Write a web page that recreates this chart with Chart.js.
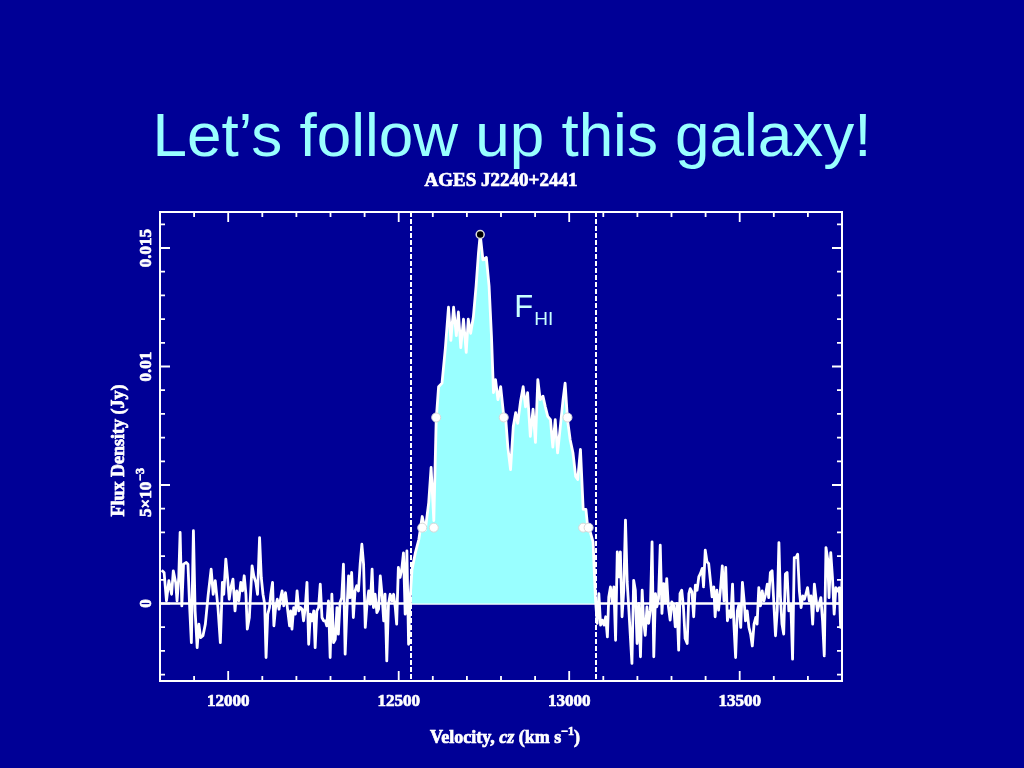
<!DOCTYPE html>
<html>
<head>
<meta charset="utf-8">
<title>AGES J2240+2441</title>
<script src="https://cdn.jsdelivr.net/npm/chart.js@4.4.0/dist/chart.umd.min.js"></script>
<style>
    html, body { margin: 0; padding: 0; background: #000096; }
    #slide { position: relative; width: 1024px; height: 768px; overflow: hidden; background: #000096; }
    #spectrum { position: absolute; left: 0; top: 0; }
    #heading {
        position: absolute; left: 0; top: 104px; width: 1024px;
        text-align: center; line-height: 62px;
        font-family: 'Liberation Sans', Arial, sans-serif; font-size: 62px;
        color: #99ffff; white-space: nowrap;
    }
</style>
</head>
<body>
<div id="slide">
    <canvas id="spectrum" width="1024" height="768"></canvas>
    <div id="heading">Let’s follow up this galaxy!</div>
</div>
<script>
// Spectrum of AGES J2240+2441.
// velocity in km/s, flux in mJy (axis labels are shown in Jy)
const velocity = [
    11805, 11812, 11819, 11826, 11834, 11839, 11846, 11850, 11855, 11859,
    11864, 11869, 11877, 11882, 11887, 11892, 11898, 11903, 11909, 11914,
    11919, 11926, 11933, 11941, 11950, 11956, 11962, 11970, 11977, 11983,
    11987, 11993, 11998, 12003, 12008, 12014, 12020, 12025, 12031, 12037,
    12042, 12047, 12052, 12056, 12062, 12070, 12075, 12081, 12086, 12092,
    12097, 12102, 12107, 12111, 12116, 12121, 12125, 12130, 12134, 12139,
    12144, 12149, 12154, 12158, 12163, 12168, 12174, 12180, 12183, 12187,
    12192, 12197, 12202, 12207, 12212, 12217, 12221, 12226, 12231, 12236,
    12241, 12246, 12251, 12255, 12260, 12265, 12270, 12275, 12280, 12285,
    12289, 12294, 12299, 12304, 12309, 12314, 12319, 12323, 12328, 12333,
    12338, 12343, 12348, 12353, 12357, 12362, 12367, 12372, 12377, 12382,
    12387, 12392, 12397, 12402, 12407, 12412, 12417, 12422, 12426, 12431,
    12436, 12441, 12446, 12451, 12456, 12460, 12465, 12470, 12475, 12480,
    12485, 12490, 12494, 12499, 12504, 12509, 12514, 12519, 12524, 12529,
    12533, 12539, 12549, 12559, 12569, 12578, 12588, 12595, 12603, 12610,
    12617, 12627, 12637, 12646, 12653, 12661, 12669, 12675, 12682, 12690,
    12698, 12704, 12711, 12719, 12727, 12734, 12739, 12747, 12757, 12765,
    12772, 12778, 12784, 12791, 12799, 12807, 12814, 12820, 12828, 12836,
    12843, 12849, 12857, 12865, 12872, 12878, 12886, 12894, 12901, 12908,
    12915, 12923, 12930, 12937, 12945, 12952, 12959, 12966, 12974, 12982,
    12988, 12995, 13003, 13011, 13019, 13025, 13033, 13041, 13049, 13054,
    13062, 13070, 13077, 13082, 13087, 13092, 13097, 13102, 13107, 13112,
    13116, 13121, 13126, 13131, 13136, 13141, 13146, 13150, 13155, 13160,
    13165, 13170, 13175, 13180, 13184, 13189, 13194, 13199, 13204, 13209,
    13214, 13218, 13223, 13228, 13233, 13238, 13243, 13248, 13253, 13257,
    13262, 13267, 13272, 13277, 13282, 13286, 13291, 13296, 13301, 13306,
    13311, 13316, 13321, 13325, 13330, 13335, 13340, 13346, 13351, 13355,
    13360, 13365, 13370, 13375, 13380, 13385, 13390, 13394, 13399, 13404,
    13409, 13414, 13419, 13424, 13428, 13433, 13438, 13443, 13449, 13454,
    13459, 13464, 13469, 13474, 13479, 13483, 13488, 13493, 13498, 13503,
    13508, 13513, 13517, 13522, 13527, 13532, 13537, 13542, 13547, 13551,
    13556, 13561, 13566, 13571, 13576, 13581, 13585, 13590, 13595, 13600,
    13605, 13610, 13615, 13619, 13624, 13629, 13634, 13639, 13644, 13650,
    13655, 13660, 13665, 13670, 13675, 13680, 13685, 13690, 13694, 13699,
    13704, 13709, 13714, 13719, 13724, 13728, 13733, 13738, 13743, 13748,
    13753, 13758, 13762, 13767, 13772, 13777, 13782, 13787, 13792, 13796,
    13800
];
const flux = [
    1.40, 1.31, 0.11, 0.96, 0.39, 1.38, 0.89, 0.11, 1.10, 3.00,
    -0.10, 1.66, 1.73, 1.66, -0.17, -1.65, 3.07, -0.31, -1.86, -0.87,
    -1.44, -1.36, -0.87, 0.32, 1.45, 0.39, 0.96, -0.17, -1.65, 0.89,
    0.39, 1.87, 1.10, 0.18, 0.67, 1.03, -0.31, 0.53, 0.11, 0.89,
    0.53, 1.17, 0.39, -1.08, -0.59, 1.59, 1.17, 0.89, 0.39, 2.78,
    1.10, 0.39, -0.03, -2.28, -0.45, -0.17, 0.39, 0.89, -0.94, -0.17,
    0.18, -0.24, 0.25, 0.53, -0.10, 0.46, -0.24, -0.94, -0.31, -1.08,
    -0.17, -0.45, 0.53, -0.31, -0.17, -0.24, -0.73, -0.17, 0.89, -1.72,
    -0.45, -0.73, -0.31, -1.86, -0.31, -0.17, 0.82, -0.59, -0.73, -0.73,
    -0.94, 0.11, -2.28, 0.39, -1.65, -1.51, -0.17, -1.29, 0.04, 0.25,
    1.66, -2.14, -0.31, 1.17, 0.25, 1.31, -0.59, 0.53, 0.75, 0.53,
    1.66, 2.50, 1.66, -1.01, -0.03, 0.53, -0.03, 1.45, -0.17, 0.39,
    -0.38, -0.24, 1.17, 0.39, -0.73, 0.39, -2.42, -0.03, 0.39, 0.11,
    0.39, -0.17, -0.87, 1.52, 1.10, 1.45, 2.14, -0.45, 2.22, -1.72,
    0.11, 1.43, 2.15, 2.70, 3.67, 3.10, 4.26, 5.74, 3.50, 7.76,
    9.15, 9.30, 10.80, 12.50, 11.10, 12.50, 11.30, 12.30, 10.80, 12.00,
    10.60, 12.00, 11.40, 12.10, 13.40, 14.80, 15.57, 14.50, 14.60, 13.40,
    11.30, 8.90, 9.45, 8.60, 9.15, 8.05, 7.76, 6.60, 5.65, 7.47,
    8.05, 7.60, 8.50, 9.15, 8.30, 8.90, 7.05, 8.20, 6.80, 9.45,
    8.60, 8.75, 8.30, 7.90, 7.76, 6.60, 7.76, 6.36, 7.47, 8.60,
    9.30, 7.76, 6.90, 6.36, 5.36, 5.23, 6.50, 3.97, 3.97, 3.25,
    3.00, 2.60, 0.20, -0.84, 0.42, -0.91, -0.70, -0.91, -0.56, -1.41,
    0.28, 0.70, 0.07, 0.70, -1.55, 2.18, 1.12, 2.18, -0.56, 0.56,
    3.52, 0.91, -0.28, -1.55, -2.53, 0.98, 0.56, -1.69, 0.00, -2.25,
    0.56, -0.70, -1.34, -0.14, -0.84, -0.28, 2.60, -2.25, 0.42, -0.14,
    0.21, 2.46, -0.42, 0.84, 0.07, 1.05, -0.14, -0.70, 0.07, -0.07,
    -0.98, 0.00, -1.97, 0.42, 0.56, -0.14, -1.48, -1.69, 0.42, 0.63,
    0.49, -0.56, 0.77, 0.56, 1.12, 1.27, 1.48, 0.70, 2.25, 1.76,
    1.69, 0.98, 0.28, 0.70, -0.56, 0.56, -0.28, 0.49, 1.59, 0.11,
    1.52, -0.73, -0.31, -0.59, 0.82, -0.87, -2.28, -0.31, -0.03, -1.01,
    0.89, 0.11, -0.73, -0.31, -1.01, -1.29, -1.79, -0.87, -0.59, -0.87,
    0.67, -0.10, 0.53, 0.11, 0.39, 0.82, 0.25, 1.31, 1.38, 0.04,
    -1.36, -0.31, 2.57, 0.39, -0.87, -1.29, 1.24, 1.31, -0.31, -0.03,
    -2.35, 1.94, 1.94, 2.08, 0.53, -0.17, 0.32, 0.18, 0.39, 0.67,
    0.11, 0.32, -0.87, 0.82, 0.18, -0.31, -0.03, 0.25, -0.73, -2.21,
    2.36, 1.87, 0.25, 2.15, 1.10, -0.45, 0.67, 0.53, 0.67, -1.01,
    1.03
];

// integration window (dashed lines), km/s
const windowEdges = [12537, 13080];

// width markers (20% and 50% of peak) and the peak itself
const markerVelocity = [12569, 12603, 13041, 13057, 12610, 12808, 12995];
const markerFlux = [3.2, 3.2, 3.2, 3.2, 7.85, 7.85, 7.85];
const peakVelocity = [12739];
const peakFlux = [15.57];

// axes
const xMin = 11800, xMax = 13800;
const yMin = -3.27, yMax = 16.52;
const xTickValues = [12000, 12500, 13000, 13500];
const xTickLabels = ['12000', '12500', '13000', '13500'];
const yTickValues = [0, 5, 10, 15];
const yTickLabels = ['0', '5×10|−3', '0.01', '0.015'];   // '|' splits off the exponent

const chartTitle = 'AGES J2240+2441';
const serif = "'Liberation Serif', 'Times New Roman', serif";

const points = (xs, ys) => xs.map((v, i) => ({ x: v, y: ys[i] }));

const spectrumPoints = points(velocity, flux);
const windowPoints = spectrumPoints.filter(p => p.x >= windowEdges[0] && p.x <= windowEdges[1]);

// heavy pgplot-like text: fill plus a thin stroke
function heavyText(ctx, text, x, y) {
    ctx.fillText(text, x, y);
    ctx.strokeText(text, x, y);
}

// PGPLOT style frame: inward ticks on all four sides, rotated y labels
const pgplotAxes = {
    id: 'pgplotAxes',
    beforeDatasetsDraw(chart) {
        const { ctx, chartArea: a, scales: { y } } = chart;
        const y0 = y.getPixelForValue(0);
        ctx.save();
        ctx.strokeStyle = '#ffffff';
        ctx.lineWidth = 2.5;
        ctx.beginPath();
        ctx.moveTo(a.left, y0);
        ctx.lineTo(a.right, y0);
        ctx.stroke();
        ctx.restore();
    },
    afterDatasetsDraw(chart) {
        const { ctx, chartArea: a, scales: { x } } = chart;
        ctx.save();
        ctx.strokeStyle = '#ffffff';
        ctx.lineWidth = 2;
        ctx.setLineDash([5, 2]);
        windowEdges.forEach(v => {
            const px = Math.round(x.getPixelForValue(v));
            ctx.beginPath();
            ctx.moveTo(px, a.top);
            ctx.lineTo(px, a.bottom);
            ctx.stroke();
        });
        ctx.restore();
    },
    afterDraw(chart) {
        const { ctx, chartArea: a, scales: { x, y } } = chart;
        ctx.save();
        ctx.strokeStyle = '#ffffff';
        ctx.fillStyle = '#ffffff';

        // frame
        ctx.lineWidth = 2;
        ctx.strokeRect(a.left, a.top, a.right - a.left, a.bottom - a.top);

        // ticks
        ctx.lineWidth = 1.8;
        ctx.beginPath();
        for (let v = 11900; v <= 13700; v += 100) {
            const len = v % 500 === 0 ? 10 : 5;
            const px = x.getPixelForValue(v);
            ctx.moveTo(px, a.bottom); ctx.lineTo(px, a.bottom - len);
            ctx.moveTo(px, a.top); ctx.lineTo(px, a.top + len);
        }
        for (let f = -3; f <= 16; f += 1) {
            const len = f % 5 === 0 ? 10 : 5;
            const py = y.getPixelForValue(f);
            ctx.moveTo(a.left, py); ctx.lineTo(a.left + len, py);
            ctx.moveTo(a.right, py); ctx.lineTo(a.right - len, py);
        }
        ctx.stroke();

        ctx.lineWidth = 0.7;

        // x tick labels
        ctx.font = `bold 17px ${serif}`;
        ctx.textAlign = 'center';
        ctx.textBaseline = 'alphabetic';
        xTickValues.forEach((v, i) => {
            heavyText(ctx, xTickLabels[i], x.getPixelForValue(v), a.bottom + 25);
        });

        // y tick labels, rotated
        yTickValues.forEach((f, i) => {
            const py = y.getPixelForValue(f);
            const [base, exp] = yTickLabels[i].split('|');
            ctx.save();
            ctx.translate(151, py);
            ctx.rotate(-Math.PI / 2);
            ctx.textAlign = 'left';
            ctx.font = `bold 17px ${serif}`;
            const wBase = ctx.measureText(base).width;
            ctx.font = `bold 12px ${serif}`;
            const wExp = exp ? ctx.measureText(exp).width : 0;
            const start = -(wBase + wExp) / 2 - (exp ? 8 : 0);
            ctx.font = `bold 17px ${serif}`;
            heavyText(ctx, base, start, 0);
            if (exp) {
                ctx.font = `bold 12px ${serif}`;
                heavyText(ctx, exp, start + wBase + 1, -7);
            }
            ctx.restore();
        });

        // y axis title
        ctx.save();
        ctx.translate(124, (a.top + a.bottom) / 2 + 4);
        ctx.rotate(-Math.PI / 2);
        ctx.textAlign = 'center';
        ctx.font = `bold 18px ${serif}`;
        heavyText(ctx, 'Flux Density (Jy)', 0, 0);
        ctx.restore();

        // x axis title with italic cz and superscript
        const parts = [
            ['Velocity, ', `bold 18px ${serif}`, 0],
            ['cz', `italic bold 18px ${serif}`, 0],
            [' (km s', `bold 18px ${serif}`, 0],
            ['−1', `bold 12px ${serif}`, -8],
            [')', `bold 18px ${serif}`, 0]
        ];
        ctx.textAlign = 'left';
        let total = 0;
        parts.forEach(([t, f]) => { ctx.font = f; total += ctx.measureText(t).width; });
        let cx = (a.left + a.right) / 2 + 4 - total / 2;
        parts.forEach(([t, f, dy]) => {
            ctx.font = f;
            heavyText(ctx, t, cx, a.bottom + 62 + dy);
            cx += ctx.measureText(t).width;
        });

        // plot title
        ctx.textAlign = 'center';
        ctx.font = `bold 19px ${serif}`;
        heavyText(ctx, chartTitle, (a.left + a.right) / 2, a.top - 26);

        // F_HI annotation
        const fx = x.getPixelForValue(12839);
        const fy = y.getPixelForValue(12.09);
        ctx.fillStyle = '#c8ffff';
        ctx.textAlign = 'left';
        ctx.font = "31px 'Liberation Sans', Arial, sans-serif";
        ctx.fillText('F', fx, fy);
        const wF = ctx.measureText('F').width;
        ctx.font = "19px 'Liberation Sans', Arial, sans-serif";
        ctx.fillText('HI', fx + wF + 1, fy + 8);

        ctx.restore();
    }
};

new Chart(document.getElementById('spectrum'), {
    type: 'line',
    data: {
        datasets: [
            {
                label: 'peak',
                data: points(peakVelocity, peakFlux),
                showLine: false,
                pointRadius: 4,
                pointBackgroundColor: '#000000',
                pointBorderColor: '#dddddd',
                pointBorderWidth: 1.5,
                order: 0
            },
            {
                label: 'widths',
                data: points(markerVelocity, markerFlux),
                showLine: false,
                pointRadius: 4.5,
                pointBackgroundColor: '#ffffff',
                pointBorderColor: '#d8d8d8',
                pointBorderWidth: 1,
                order: 1
            },
            {
                label: 'spectrum',
                data: spectrumPoints,
                borderColor: '#ffffff',
                borderWidth: 2.8,
                borderJoinStyle: 'round',
                pointRadius: 0,
                fill: false,
                order: 2
            },
            {
                label: 'integrated flux',
                data: windowPoints,
                borderWidth: 0,
                borderColor: 'rgba(0,0,0,0)',
                backgroundColor: '#99ffff',
                pointRadius: 0,
                fill: { value: 0 },
                order: 3
            }
        ]
    },
    options: {
        responsive: false,
        animation: false,
        layout: { padding: { left: 160, right: 1024 - 842, top: 212, bottom: 768 - 681 } },
        plugins: {
            legend: { display: false },
            tooltip: { enabled: false },
            title: { display: false }
        },
        elements: { line: { tension: 0 } },
        scales: {
            x: { type: 'linear', min: xMin, max: xMax, display: false },
            y: { type: 'linear', min: yMin, max: yMax, display: false }
        }
    },
    plugins: [pgplotAxes]
});
</script>
</body>
</html>
